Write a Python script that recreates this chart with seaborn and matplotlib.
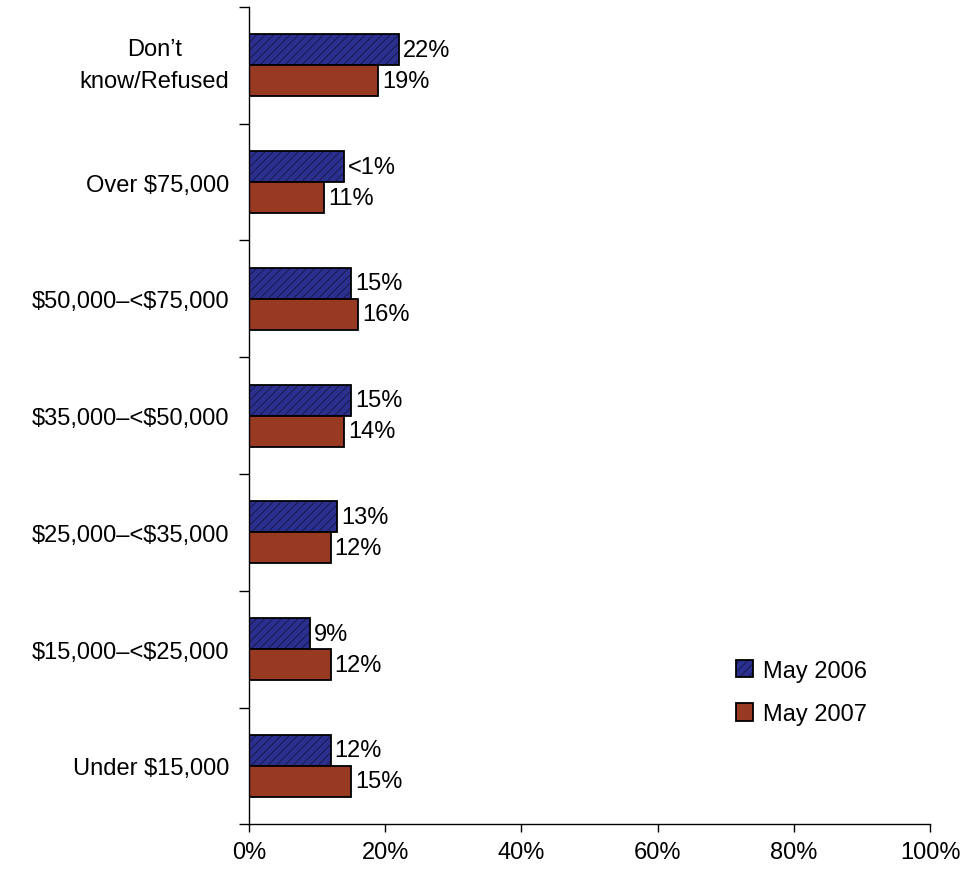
import numpy as np
import pandas as pd
import matplotlib
matplotlib.use("Agg")
import matplotlib.pyplot as plt
import seaborn as sns
from matplotlib.ticker import FixedLocator, PercentFormatter

categories = [
    "Don\u2019t\nknow/Refused",
    "Over $75,000",
    "$50,000\u2013<$75,000",
    "$35,000\u2013<$50,000",
    "$25,000\u2013<$35,000",
    "$15,000\u2013<$25,000",
    "Under $15,000",
]
series = ["May 2006", "May 2007"]
may_2006 = [22, 14, 15, 15, 13, 9, 12]
may_2007 = [19, 11, 16, 14, 12, 12, 15]
labels_2006 = ["22%", "<1%", "15%", "15%", "13%", "9%", "12%"]
labels_2007 = ["19%", "11%", "16%", "14%", "12%", "12%", "15%"]

colors = ["#2B2F8E", "#983A22"]

df = pd.DataFrame({
    "category": categories * 2,
    "series": [series[0]] * len(categories) + [series[1]] * len(categories),
    "value": may_2006 + may_2007,
})

sns.set_style("white")
plt.rcParams["font.family"] = ["Liberation Sans", "DejaVu Sans"]
plt.rcParams["text.parse_math"] = False
plt.rcParams["hatch.linewidth"] = 0.3
plt.rcParams["text.color"] = "black"
plt.rcParams["xtick.color"] = "black"
plt.rcParams["ytick.color"] = "black"

fs = 17

fig = plt.figure(figsize=(9.68, 8.78), dpi=100)
ax = fig.add_axes([0.257, 0.060, 0.704, 0.931])

sns.barplot(
    data=df, x="value", y="category", hue="series", order=categories,
    hue_order=series, palette=colors, orient="h", width=0.53,
    edgecolor="black", linewidth=1.3, saturation=1, legend=False, ax=ax,
)

# diagonal fill on the 2006 bars
for p in ax.containers[0].patches:
    p.set_hatch("////")

ax.bar_label(ax.containers[0], labels=labels_2006, padding=3, fontsize=fs)
ax.bar_label(ax.containers[1], labels=labels_2007, padding=3, fontsize=fs)

ax.set_xlim(0, 100)
ax.set_ylim(len(categories) - 0.5, -0.5)
ax.xaxis.set_major_locator(FixedLocator([0, 20, 40, 60, 80, 100]))
ax.xaxis.set_major_formatter(PercentFormatter(decimals=0))
ax.yaxis.set_minor_locator(FixedLocator(np.arange(-0.5, len(categories), 1)))
ax.tick_params(axis="y", which="major", length=0, pad=14, labelsize=fs)
ax.tick_params(axis="y", which="minor", length=7, width=1, color="black", left=True)
ax.tick_params(axis="x", length=6, width=1, color="black", bottom=True, pad=6, labelsize=fs)
ax.set_xlabel("")
ax.set_ylabel("")
for t in ax.get_yticklabels():
    t.set_multialignment("center")
    if "\n" in t.get_text():
        t.set_linespacing(1.6)
        t.set_va("center")

sns.despine(ax=ax)
for s in ["left", "bottom"]:
    ax.spines[s].set_color("black")
    ax.spines[s].set_linewidth(1)

ax.legend(
    ax.containers, series, loc="center left", bbox_to_anchor=(0.738, 0.21),
    bbox_transform=fig.transFigure, frameon=False, fontsize=fs,
    handlelength=0.75, handleheight=0.75, handletextpad=0.4, labelspacing=0.9,
)

fig.savefig("out.png", dpi=100)
